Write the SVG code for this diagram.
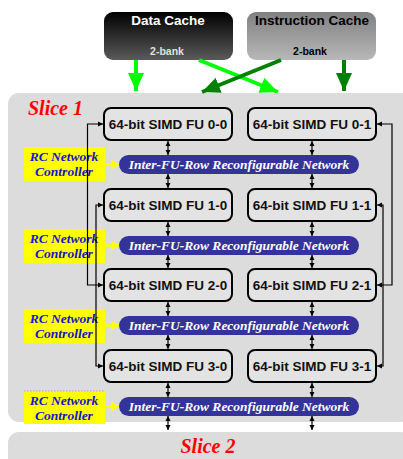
<svg xmlns="http://www.w3.org/2000/svg" width="403" height="459" viewBox="0 0 403 459">
<defs>
<linearGradient id="gDark" x1="0" y1="0" x2="0" y2="1"><stop offset="0" stop-color="#000"/><stop offset="1" stop-color="#5a5a5a"/></linearGradient>
<linearGradient id="gLight" x1="0" y1="0" x2="0" y2="1"><stop offset="0" stop-color="#808080"/><stop offset="1" stop-color="#b8b8b8"/></linearGradient>
<marker id="hBright" markerUnits="userSpaceOnUse" markerWidth="20" markerHeight="16" refX="18" refY="8" orient="auto"><path d="M0,0 L18,8 L0,16 Z" fill="#00ff00"/></marker>
<marker id="hDark" markerUnits="userSpaceOnUse" markerWidth="20" markerHeight="16" refX="18" refY="8" orient="auto"><path d="M0,0 L18,8 L0,16 Z" fill="#008000"/></marker>
<marker id="hSmall" markerUnits="userSpaceOnUse" markerWidth="6" markerHeight="6" refX="5" refY="3" orient="auto-start-reverse"><path d="M0,0.5 L5,3 L0,5.5 Z" fill="#000"/></marker>
<marker id="hYellow" markerUnits="userSpaceOnUse" markerWidth="9" markerHeight="10" refX="8" refY="5" orient="auto"><path d="M0,0 L8,5 L0,10 Z" fill="#ffff00"/></marker>
</defs>
<style>
.panel{fill:#dcdcdc}
.fu rect{fill:#e3e3e3;stroke:#000;stroke-width:2}
.fu text{font-family:"Liberation Sans",Arial,sans-serif;font-weight:bold;font-size:13.5px;fill:#111;text-anchor:middle}
.net rect{fill:#333399}
.net text{font-family:"Liberation Serif","Times New Roman",serif;font-weight:bold;font-style:italic;font-size:13.5px;fill:#fff;text-anchor:middle}
.ctl rect{fill:#ffff00}
.ctl text{font-family:"Liberation Serif","Times New Roman",serif;font-weight:bold;font-style:italic;font-size:13.5px;fill:#1414d2;text-anchor:middle}
.slice{font-family:"Liberation Serif","Times New Roman",serif;font-weight:bold;font-style:italic;font-size:20px;fill:#ff0000}
.cache{font-family:"Liberation Sans",Arial,sans-serif;font-weight:bold;text-anchor:middle}
.thin{fill:none;stroke:#000;stroke-width:1.2}
.dbl{stroke:#000;stroke-width:1.2;marker-start:url(#hSmall);marker-end:url(#hSmall)}
.loop{fill:none;stroke:#000;stroke-width:1.2;marker-start:url(#hSmall);marker-end:url(#hSmall)}
.ya{stroke:#ffff00;stroke-width:2.5;marker-end:url(#hYellow)}
</style>
<rect width="403" height="459" fill="#fff"/>
<g id="slice1"><rect class="panel" x="8" y="93" width="404" height="329" rx="11"/><text class="slice" x="28" y="115">Slice 1</text></g>
<g id="slice2"><rect class="panel" x="8" y="432" width="404" height="40" rx="11"/><text class="slice" x="208" y="453" text-anchor="middle">Slice 2</text></g>
<g id="dcache"><rect x="104" y="12" width="129" height="48" rx="9" fill="url(#gDark)"/><text class="cache" x="168" y="25" font-size="13.5" fill="#fff">Data Cache</text><text class="cache" x="167" y="55" font-size="10.5" fill="#e0e0e0">2-bank</text></g>
<g id="icache"><rect x="247" y="12" width="129" height="48" rx="9" fill="url(#gLight)"/><text class="cache" x="312" y="25" font-size="13.5" fill="#000">Instruction Cache</text><text class="cache" x="310" y="55" font-size="10.5" fill="#000">2-bank</text></g>
<g id="fu00" class="fu"><rect x="104" y="108" width="128" height="32" rx="7"/><text x="168" y="129">64-bit SIMD FU 0-0</text></g>
<g id="fu01" class="fu"><rect x="248" y="108" width="128" height="32" rx="7"/><text x="312" y="129">64-bit SIMD FU 0-1</text></g>
<g id="fu10" class="fu"><rect x="104" y="189" width="128" height="32" rx="7"/><text x="168" y="210">64-bit SIMD FU 1-0</text></g>
<g id="fu11" class="fu"><rect x="248" y="189" width="128" height="32" rx="7"/><text x="312" y="210">64-bit SIMD FU 1-1</text></g>
<g id="fu20" class="fu"><rect x="104" y="269" width="128" height="32" rx="7"/><text x="168" y="290">64-bit SIMD FU 2-0</text></g>
<g id="fu21" class="fu"><rect x="248" y="269" width="128" height="32" rx="7"/><text x="312" y="290">64-bit SIMD FU 2-1</text></g>
<g id="fu30" class="fu"><rect x="104" y="350" width="128" height="32" rx="7"/><text x="168" y="371">64-bit SIMD FU 3-0</text></g>
<g id="fu31" class="fu"><rect x="248" y="350" width="128" height="32" rx="7"/><text x="312" y="371">64-bit SIMD FU 3-1</text></g>
<g id="net0" class="net"><rect x="119" y="155" width="240" height="19" rx="9.5"/><text x="239" y="169">Inter-FU-Row Reconfigurable Network</text></g>
<g id="net1" class="net"><rect x="119" y="236" width="240" height="19" rx="9.5"/><text x="239" y="250">Inter-FU-Row Reconfigurable Network</text></g>
<g id="net2" class="net"><rect x="119" y="316" width="240" height="19" rx="9.5"/><text x="239" y="330">Inter-FU-Row Reconfigurable Network</text></g>
<g id="net3" class="net"><rect x="119" y="397" width="240" height="19" rx="9.5"/><text x="239" y="411">Inter-FU-Row Reconfigurable Network</text></g>
<g id="ctl0" class="ctl"><rect x="24" y="147" width="81" height="34"/><text x="64" y="161">RC Network</text><text x="64" y="176">Controller</text></g>
<g id="ctl1" class="ctl"><rect x="24" y="229" width="81" height="34"/><text x="64" y="243">RC Network</text><text x="64" y="258">Controller</text></g>
<g id="ctl2" class="ctl"><rect x="24" y="309" width="81" height="34"/><text x="64" y="323">RC Network</text><text x="64" y="338">Controller</text></g>
<g id="ctl3" class="ctl"><rect x="24" y="391" width="81" height="33"/><line x1="24" y1="391" x2="105" y2="391" stroke="#999" stroke-width="0.8" stroke-dasharray="1.5,1.5"/><text x="64" y="405">RC Network</text><text x="64" y="420">Controller</text></g>
<g id="connectors">
<line x1="136" y1="60" x2="136" y2="91" stroke="#00ff00" stroke-width="4" marker-end="url(#hBright)"/>
<line x1="199" y1="60" x2="278" y2="92" stroke="#00ff00" stroke-width="4" marker-end="url(#hBright)"/>
<line x1="281" y1="60" x2="202" y2="92" stroke="#008000" stroke-width="4" marker-end="url(#hDark)"/>
<line x1="344" y1="60" x2="344" y2="91" stroke="#008000" stroke-width="4" marker-end="url(#hDark)"/>
<line class="ya" x1="105" y1="164.5" x2="119" y2="164.5"/>
<line class="ya" x1="105" y1="245.5" x2="119" y2="245.5"/>
<line class="ya" x1="105" y1="325.5" x2="119" y2="325.5"/>
<line class="ya" x1="105" y1="406.5" x2="119" y2="406.5"/>
<line class="dbl" x1="168" y1="141" x2="168" y2="155"/>
<line class="dbl" x1="168" y1="174" x2="168" y2="188"/>
<line class="dbl" x1="168" y1="222" x2="168" y2="236"/>
<line class="dbl" x1="168" y1="255" x2="168" y2="268"/>
<line class="dbl" x1="168" y1="302" x2="168" y2="316"/>
<line class="dbl" x1="168" y1="335" x2="168" y2="349"/>
<line class="dbl" x1="168" y1="383" x2="168" y2="397"/>
<line class="dbl" x1="168" y1="416" x2="168" y2="430"/>
<line class="dbl" x1="312" y1="141" x2="312" y2="155"/>
<line class="dbl" x1="312" y1="174" x2="312" y2="188"/>
<line class="dbl" x1="312" y1="222" x2="312" y2="236"/>
<line class="dbl" x1="312" y1="255" x2="312" y2="268"/>
<line class="dbl" x1="312" y1="302" x2="312" y2="316"/>
<line class="dbl" x1="312" y1="335" x2="312" y2="349"/>
<line class="dbl" x1="312" y1="383" x2="312" y2="397"/>
<line class="dbl" x1="312" y1="416" x2="312" y2="430"/>
<path class="loop" d="M103,124 H87.5 V285 H103"/>
<path class="loop" d="M103,205 H96 V366 H103"/>
<path class="loop" d="M377,124 H392 V285 H377"/>
<path class="loop" d="M377,205 H383 V366 H377"/>
</g>
</svg>
